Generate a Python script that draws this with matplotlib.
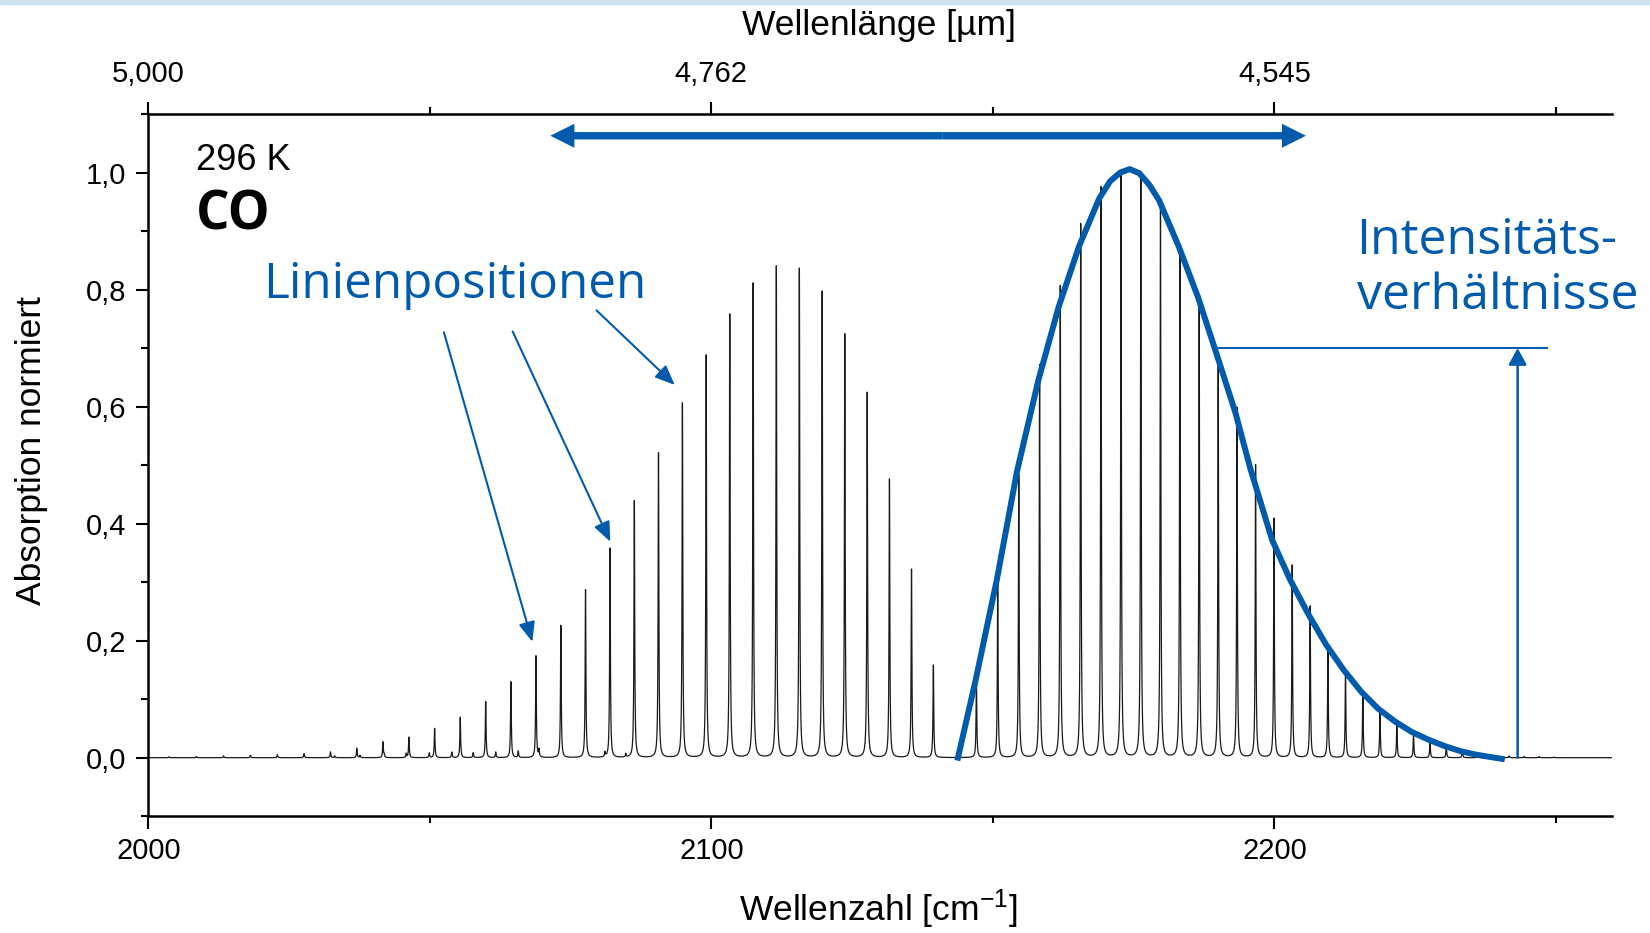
import numpy as np
import matplotlib.pyplot as plt
from matplotlib.ticker import MultipleLocator, FuncFormatter
from matplotlib.patches import Rectangle

plt.rcParams['font.family'] = ['Liberation Sans', 'DejaVu Sans']
plt.rcParams['mathtext.fontset'] = 'custom'
plt.rcParams['mathtext.rm'] = 'Liberation Sans'
plt.rcParams['mathtext.it'] = 'Liberation Sans:italic'
plt.rcParams['path.simplify'] = False

blau = '#005bac'

# CO Grundschwingung bei 296 K: Linienlagen [cm^-1] und normierte Peakhoehen
p_zweig_pos = [2139.43, 2135.55, 2131.63, 2127.68, 2123.70, 2119.68, 2115.63, 2111.54,
               2107.42, 2103.27, 2099.08, 2094.86, 2090.61, 2086.32, 2082.00, 2077.65,
               2073.27, 2068.85, 2064.40, 2059.92, 2055.40, 2050.85, 2046.28, 2041.67,
               2037.03, 2032.35, 2027.65, 2022.92, 2018.15, 2013.36, 2008.54, 2003.69]
p_zweig_hoehe = [0.158, 0.322, 0.476, 0.624, 0.724, 0.797, 0.836, 0.840,
                 0.811, 0.758, 0.688, 0.606, 0.521, 0.439, 0.358, 0.287,
                 0.226, 0.174, 0.130, 0.096, 0.069, 0.050, 0.035, 0.027,
                 0.016, 0.010, 0.007, 0.005, 0.004, 0.003, 0.002, 0.0015]

r_zweig_pos = [2147.08, 2150.86, 2154.60, 2158.30, 2161.97, 2165.60, 2169.20, 2172.76,
               2176.28, 2179.77, 2183.22, 2186.64, 2190.02, 2193.36, 2196.66, 2199.93,
               2203.16, 2206.35, 2209.51, 2212.63, 2215.71, 2218.75, 2221.75, 2224.71,
               2227.64, 2230.53, 2233.37, 2236.18, 2238.95, 2241.68, 2244.37, 2247.03,
               2249.65]
r_zweig_hoehe = [0.133, 0.301, 0.483, 0.671, 0.806, 0.912, 0.975, 0.996,
                 0.990, 0.948, 0.868, 0.771, 0.675, 0.598, 0.500, 0.409,
                 0.329, 0.259, 0.190, 0.147, 0.110, 0.0815, 0.0576, 0.0405,
                 0.027, 0.020, 0.013, 0.0075, 0.004, 0.003, 0.002, 0.002,
                 0.001]

# schwache Nebenlinien
neben_pos = [2033.1, 2037.6, 2041.9, 2045.8, 2049.9, 2053.9, 2057.7, 2061.7,
             2065.7, 2069.4, 2081.1, 2084.8]
neben_hoehe = [0.003, 0.004, 0.005, 0.007, 0.008, 0.0095, 0.0085, 0.0095,
               0.011, 0.0125, 0.008, 0.006]

# Einhuellende des R-Zweigs
huelle_x = [2143.8, 2146.95, 2150.7, 2154.3, 2158.1, 2161.7, 2165.3, 2168.9,
            2170.8, 2172.6, 2174.3, 2176.0, 2177.8, 2179.5, 2183.0, 2186.4,
            2189.7, 2193.1, 2195.7, 2199.6, 2202.8, 2206.1, 2209.2, 2212.3,
            2215.4, 2218.4, 2221.4, 2224.4, 2227.3, 2230.2, 2233.1, 2235.9,
            2240.4]
huelle_y = [0.0, 0.133, 0.304, 0.49, 0.646, 0.771, 0.874, 0.956,
            0.985, 1.0, 1.006, 0.999, 0.979, 0.953, 0.874, 0.788,
            0.691, 0.589, 0.495, 0.372, 0.304, 0.244, 0.193, 0.150,
            0.113, 0.084, 0.062, 0.044, 0.031, 0.020, 0.011, 0.005,
            -0.002]

# Spektrum als Summe von Lorentz-Profilen
gamma = 0.08
lagen = np.array(p_zweig_pos + r_zweig_pos + neben_pos)
hoehen = np.array(p_zweig_hoehe + r_zweig_hoehe + neben_hoehe)
nu = np.union1d(np.arange(2000, 2260.001, 0.01), lagen)
spektrum = np.zeros_like(nu)
for x0, h in zip(lagen, hoehen):
    spektrum += h * gamma**2 / ((nu - x0)**2 + gamma**2)

fig = plt.figure(figsize=(16.5, 9.33), dpi=100)
ax = fig.add_axes([0.0899, 0.1252, 0.8872, 0.7525])

ax.plot(nu, spektrum, color='#1a1a1a', lw=0.9)
ax.plot(huelle_x, huelle_y, color=blau, lw=4.3, solid_joinstyle='round')

ax.set_xlim(2000, 2260)
ax.set_ylim(-0.1, 1.1)

komma = lambda fmt: FuncFormatter(lambda v, p: format(0.0 if abs(v) < 1e-9 else v, fmt).replace('.', ','))
ax.xaxis.set_major_locator(MultipleLocator(100))
ax.xaxis.set_minor_locator(MultipleLocator(50))
ax.yaxis.set_major_locator(MultipleLocator(0.2))
ax.yaxis.set_minor_locator(MultipleLocator(0.1))
ax.yaxis.set_major_formatter(komma('.1f'))

ax.tick_params(which='major', direction='out', length=9, width=1.5, labelsize=21)
ax.tick_params(which='minor', direction='out', length=5, width=1.5)
ax.tick_params(axis='x', pad=6)
ax.tick_params(axis='y', pad=7)
ax.tick_params(which='both', top=False, right=False)
for s in ['left', 'bottom']:
    ax.spines[s].set_linewidth(1.8)
ax.spines['right'].set_visible(False)
ax.spines['top'].set_visible(False)

# obere Achse: Wellenlaenge in um
oben = ax.secondary_xaxis('top')
oben.set_xticks([2000, 2100, 2200])
oben.xaxis.set_minor_locator(MultipleLocator(50))
oben.xaxis.set_major_formatter(FuncFormatter(lambda v, p: f"{1e4 / v:.3f}".replace('.', ',')))
oben.tick_params(which='major', direction='out', length=9, width=1.5, labelsize=21, pad=10)
oben.tick_params(which='minor', direction='out', length=5, width=1.5)
oben.spines['top'].set_linewidth(1.8)

fig.text(0.5322, 0.0257, r'Wellenzahl [cm$^{-1}$]', fontsize=25.5, ha='center', va='center')
fig.text(0.5327, 0.9728, 'Wellenlänge [µm]', fontsize=25.5, ha='center', va='center')
fig.text(0.0192, 0.517, 'Absorption normiert', fontsize=25.5, rotation=90, ha='center', va='center')

ax.text(2008.4, 1.004, '296 K', fontsize=26, va='baseline')
ax.text(2008.4, 0.903, 'CO', fontsize=38, family='Open Sans', weight='bold', va='baseline')
ax.text(2020.4, 0.786, 'Linienpositionen', fontsize=35.6, family='Open Sans', color=blau, va='baseline')
ax.text(2214.6, 0.8617, 'Intensitäts-', fontsize=36, family='Open Sans', color=blau, va='baseline')
ax.text(2214.6, 0.7663, 'verhältnisse', fontsize=36, family='Open Sans', color=blau, va='baseline')

# Pfeile zu den Linienpositionen
duenn = dict(arrowstyle='-|>,head_length=1.2,head_width=0.5', mutation_scale=10,
             lw=1.5, color=blau, shrinkA=0, shrinkB=0)
for start, ziel in [((2052.5, 0.727), (2068.2, 0.198)),
                    ((2064.7, 0.7285), (2082.05, 0.369)),
                    ((2079.6, 0.7646), (2093.5, 0.637))]:
    ax.annotate('', xy=ziel, xytext=start, arrowprops=duenn)

# Intensitaetsverhaeltnis
ax.plot([2189.5, 2248.5], [0.70, 0.70], color=blau, lw=1.4)
ax.annotate('', xy=(2243.2, 0.70), xytext=(2243.2, 0.0),
            arrowprops=dict(arrowstyle='-|>,head_length=1.0,head_width=0.55', mutation_scale=10,
                            lw=1.8, color=blau, shrinkA=0, shrinkB=0))

# Doppelpfeil oben, aus zwei Haelften
dick = dict(arrowstyle='simple,head_length=1.73,head_width=1.73,tail_width=0.53',
            mutation_scale=10, lw=0, color=blau, shrinkA=0, shrinkB=0)
ax.annotate('', xy=(2071.4, 1.063), xytext=(2141.1, 1.063), arrowprops=dick)
ax.annotate('', xy=(2205.6, 1.063), xytext=(2141.1, 1.063), arrowprops=dick)

fig.patches.append(Rectangle((0, 1 - 4 / 933), 1, 4 / 933, transform=fig.transFigure,
                             color='#cfe2f3', zorder=0))

fig.savefig('out.png', dpi=100)
